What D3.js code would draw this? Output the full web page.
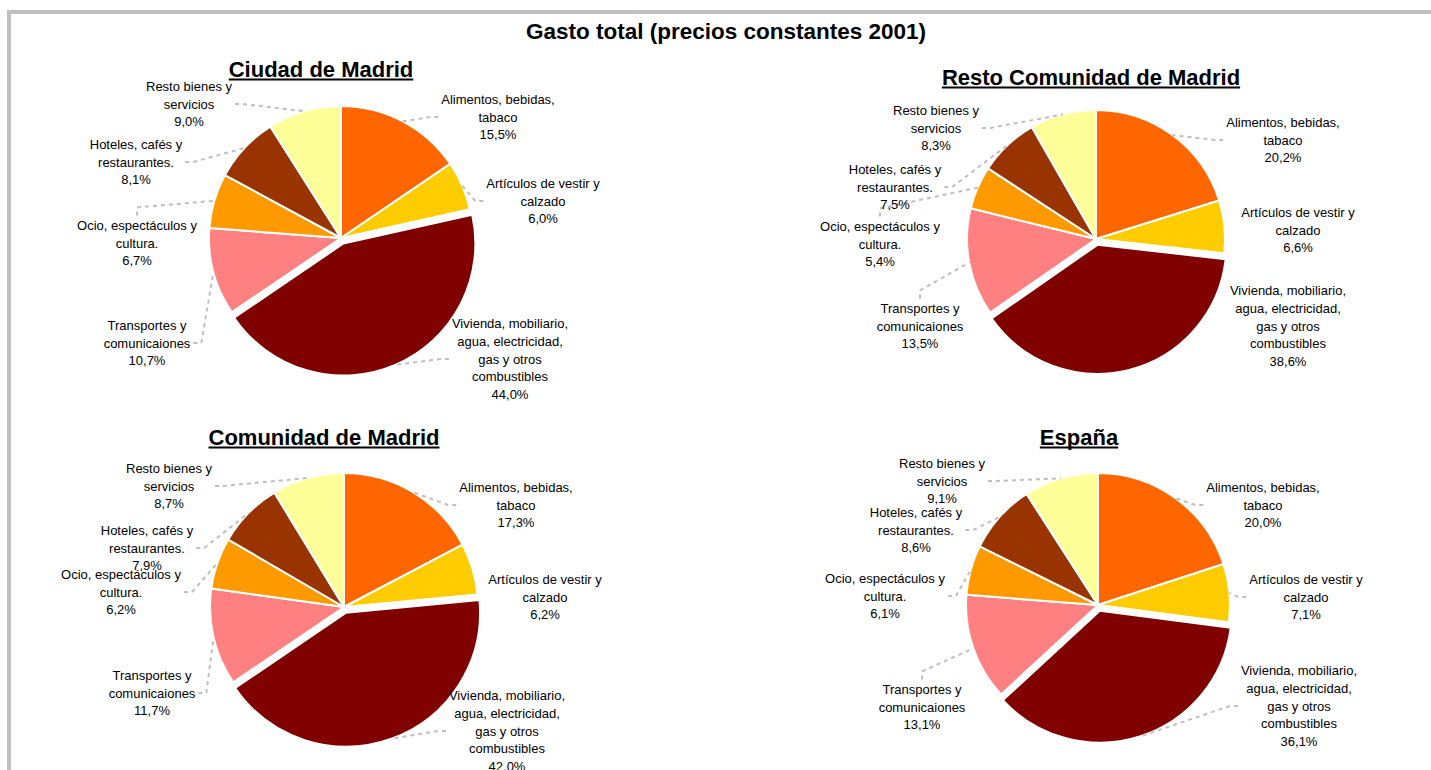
<!DOCTYPE html>
<html>
<head>
<meta charset="utf-8">
<script src="https://cdn.jsdelivr.net/npm/d3@7"></script>
<style>
  body { margin: 0; background: #fff; }
  svg { display: block; }
  text { font-family: Arial, "Liberation Sans", sans-serif; fill: #000; }
</style>
</head>
<body>
<svg id="chart" width="1431" height="770"></svg>
<script>
// ---- data ----
const categories = [
  ["Alimentos, bebidas,", "tabaco"],
  ["Artículos de vestir y", "calzado"],
  ["Vivienda, mobiliario,", "agua, electricidad,", "gas y otros", "combustibles"],
  ["Transportes y", "comunicaiones"],
  ["Ocio, espectáculos y", "cultura."],
  ["Hoteles, cafés y", "restaurantes."],
  ["Resto bienes y", "servicios"]
];
const colors = ["#FF6600", "#FFCC00", "#800000", "#FF8080", "#FF9900", "#993300", "#FFFF99"];

const ciudadValues    = [15.5, 6.0, 44.0, 10.7, 6.7, 8.1, 9.0];
const restoValues     = [20.2, 6.6, 38.6, 13.5, 5.4, 7.5, 8.3];
const comunidadValues = [17.3, 6.2, 42.0, 11.7, 6.2, 7.9, 8.7];
const espanaValues    = [20.0, 7.1, 36.1, 13.1, 6.1, 8.6, 9.1];

const mainTitle = "Gasto total (precios constantes 2001)";
const chartTitles = ["Ciudad de Madrid", "Resto Comunidad de Madrid", "Comunidad de Madrid", "España"];
const explodedIndex = 2;   // Vivienda slice is pulled out

// ---- layout (label block centres + leader side) ----
const charts = [
  { values: ciudadValues, cx: 341, cy: 238, r: 132, tx: 321, ty: 77,
    labels: [[498,117,"l"],[543,201,"l"],[510,359,"l"],[147,343,"r"],[137,243,"t"],[136,162,"r"],[189,104,"r"]] },
  { values: restoValues, cx: 1096, cy: 239, r: 129, tx: 1091, ty: 85,
    labels: [[1283,140,"l"],[1298,230,null],[1288,326,null],[920,326,"t"],[880,244,"t"],[895,187,"r"],[936,128,"r"]] },
  { values: comunidadValues, cx: 344, cy: 607, r: 134, tx: 324, ty: 445,
    labels: [[516,505,"l"],[545,597,null],[507,731,"l"],[152,693,"r"],[121,592,"r"],[147,548,"r"],[169,486,"r"]] },
  { values: espanaValues, cx: 1098, cy: 605, r: 132, tx: 1079, ty: 445,
    labels: [[1263,505,"l"],[1306,597,"l"],[1299,706,"l"],[922,707,"t"],[885,596,"r"],[916,530,"r"],[942,481,"r"]] }
];

const explode = 6;
const lineH = 17.6;
const fmt = v => d3.format(".1f")(v).replace(".", ",") + "%";

const svg = d3.select("#chart");

// outer frame (grey border, only top and left visible)
svg.append("path")
  .attr("d", "M9,775 L9,12 L1440,12")
  .attr("fill", "none")
  .attr("stroke", "#c0c0c0")
  .attr("stroke-width", 4);

svg.append("text")
  .attr("x", 726).attr("y", 39)
  .attr("text-anchor", "middle")
  .style("font-size", "22.5px").style("font-weight", "bold")
  .text(mainTitle);

const pie = d3.pie().sort(null).value(d => d);

charts.forEach((c, ci) => {
  const g = svg.append("g");

  // chart title, bold + underlined
  const t = g.append("text")
    .attr("x", c.tx).attr("y", c.ty)
    .attr("text-anchor", "middle")
    .style("font-size", "22px").style("font-weight", "bold")
    .text(chartTitles[ci]);
  const tw = t.node().getComputedTextLength();
  g.append("line")
    .attr("x1", c.tx - tw / 2).attr("x2", c.tx + tw / 2)
    .attr("y1", c.ty + 2.5).attr("y2", c.ty + 2.5)
    .attr("stroke", "#000").attr("stroke-width", 2);

  const arcs = pie(c.values);
  const arc = d3.arc().innerRadius(0).outerRadius(c.r);

  const shift = (d, i) => {
    if (i !== explodedIndex) return [0, 0];
    const a = (d.startAngle + d.endAngle) / 2;
    return [explode * Math.sin(a), -explode * Math.cos(a)];
  };

  g.selectAll("path.slice")
    .data(arcs)
    .join("path")
    .attr("class", "slice")
    .attr("transform", (d, i) => {
      const s = shift(d, i);
      return `translate(${c.cx + s[0]},${c.cy + s[1]})`;
    })
    .attr("d", arc)
    .attr("fill", (d, i) => colors[i])
    .attr("stroke", "#fff")
    .attr("stroke-width", 2)
    .attr("stroke-linejoin", "round");

  // labels + leader lines
  arcs.forEach((d, i) => {
    const [lx, ly, side] = c.labels[i];
    const lines = categories[i].concat([fmt(c.values[i])]);
    const n = lines.length;
    const y0 = ly - (n - 1) / 2 * lineH;
    const txt = g.append("text")
      .attr("text-anchor", "middle")
      .style("font-size", "13px");
    lines.forEach((s, k) => {
      txt.append("tspan").attr("x", lx).attr("y", y0 + k * lineH + 4.5).text(s);
    });
    if (!side) return;
    let w = 0;
    txt.selectAll("tspan").each(function () { w = Math.max(w, this.getComputedTextLength()); });

    const a = (d.startAngle + d.endAngle) / 2;
    const s = shift(d, i);
    const px = c.cx + s[0] + c.r * Math.sin(a);
    const py = c.cy + s[1] - c.r * Math.cos(a);

    let ax, ay, ex, ey;
    if (side === "l") { ax = lx - w / 2 - 3; ay = ly; ex = ax - 8; ey = ay; }
    else if (side === "r") { ax = lx + w / 2 + 3; ay = ly; ex = ax + 8; ey = ay; }
    else { ax = lx; ay = y0 - 10; ex = ax; ey = ay - 8; }

    g.append("path")
      .attr("d", d3.line()([[ax, ay], [ex, ey], [px, py]]))
      .attr("fill", "none")
      .attr("stroke", "#bfbfbf")
      .attr("stroke-width", 2)
      .attr("stroke-dasharray", "4,4");
  });
});
</script>
</body>
</html>
